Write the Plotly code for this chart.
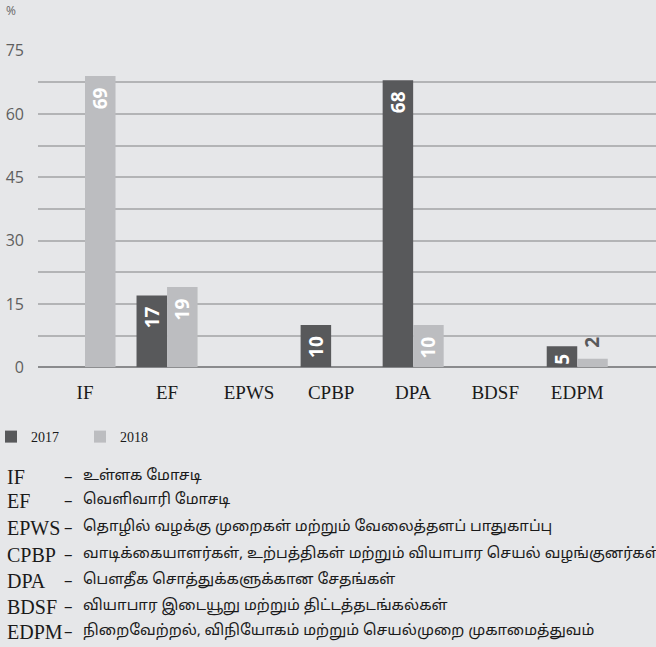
import plotly.graph_objects as go

# chart data
categories = ["IF", "EF", "EPWS", "CPBP", "DPA", "BDSF", "EDPM"]
values_2017 = [None, 17, None, 10, 68, None, 5]
values_2018 = [69, 19, None, None, 10, None, 2]
y_ticks = [0, 7.5, 15, 22.5, 30, 37.5, 45, 52.5, 60, 67.5, 75]
y_tick_labels = ["0", "", "15", "", "30", "", "45", "", "60", "", "75"]

abbreviations = ["IF", "EF", "EPWS", "CPBP", "DPA", "BDSF", "EDPM"]
descriptions = [
    "உள்ளக மோசடி",
    "வெளிவாரி மோசடி",
    "தொழில் வழக்கு முறைகள் மற்றும் வேலைத்தளப் பாதுகாப்பு",
    "வாடிக்கையாளர்கள், உற்பத்திகள் மற்றும் வியாபார செயல் வழங்குனர்கள்",
    "பௌதீக சொத்துக்களுக்கான சேதங்கள்",
    "வியாபார இடையூறு மற்றும் திட்டத்தடங்கல்கள்",
    "நிறைவேற்றல், விநியோகம் மற்றும் செயல்முறை முகாமைத்துவம்",
]

DARK = "#58595b"
LIGHT = "#bcbdc0"
BG = "#e6e7e9"
SERIF = "Liberation Serif, Times New Roman, serif"
TAMIL = "Noto Sans Tamil, Lohit Tamil, Latha, sans-serif"

W, H = 656, 647
PLOT_L, PLOT_R = 38, 656
PLOT_T, PLOT_B = 50.7, 367.3
BAR_HALF = 15.25  # px offset of each bar from its category centre


def px_x(x):
    return x / W


def px_y(y):
    return 1 - y / H


fig = go.Figure()
for name, vals, color in [("2017", values_2017, DARK), ("2018", values_2018, LIGHT)]:
    fig.add_trace(go.Bar(name=name, x=categories, y=vals,
                         marker=dict(color=color, line=dict(width=0)), hoverinfo="skip"))

annotations = []

# value labels, rotated, inside the top of the bar (above it when the bar is tiny)
for vals, shift in [(values_2017, -BAR_HALF), (values_2018, BAR_HALF)]:
    for cat, v in zip(categories, vals):
        if v is None:
            continue
        inside = v >= 4
        if inside:
            yshift = -9 if v >= 10 else -5
        else:
            yshift = 9
        annotations.append(dict(
            text=str(v), x=cat, y=v, xref="x", yref="y", showarrow=False,
            textangle=-90, xshift=shift, xanchor="center",
            yanchor="top" if inside else "bottom", yshift=yshift,
            font=dict(family="Open Sans", size=19, weight="bold",
                      color="white" if inside else DARK),
        ))

annotations.append(dict(text="%", x=px_x(4), y=px_y(11), xref="paper", yref="paper",
                        xanchor="left", yanchor="middle", showarrow=False,
                        font=dict(family="Open Sans", size=12, color="#666")))

line_y = [475, 499, 526, 553, 579, 605, 630]
for abbr, desc, ly in zip(abbreviations, descriptions, line_y):
    annotations.append(dict(text=abbr, x=px_x(4.5), y=px_y(ly + 1.5), xref="paper", yref="paper",
                            xanchor="left", yanchor="middle", showarrow=False,
                            font=dict(family=SERIF, size=20, color="#1a1a1a")))
    annotations.append(dict(text="–", x=px_x(62), y=px_y(ly), xref="paper", yref="paper",
                            xanchor="left", yanchor="middle", showarrow=False,
                            font=dict(family="Open Sans", size=17, color="#1a1a1a")))
    annotations.append(dict(text=desc, x=px_x(81), y=px_y(ly + 1.5), xref="paper", yref="paper",
                            xanchor="left", yanchor="middle", showarrow=False,
                            font=dict(family=TAMIL, size=15, color="#1a1a1a")))

fig.update_layout(
    width=W, height=H,
    margin=dict(l=0, r=0, t=0, b=0, pad=0, autoexpand=False),
    paper_bgcolor=BG, plot_bgcolor=BG,
    barmode="group", bargap=0.256, bargroupgap=0,
    showlegend=True,
    legend=dict(orientation="h", x=px_x(-9), y=px_y(437), xanchor="left", yanchor="middle",
                font=dict(family=SERIF, size=14, color="#1a1a1a"),
                bgcolor="rgba(0,0,0,0)", itemwidth=30, traceorder="normal",
                entrywidth=44, entrywidthmode="pixels"),
    annotations=annotations,
    xaxis=dict(domain=[px_x(PLOT_L), px_x(PLOT_R)], range=[-0.573, 6.96],
               showgrid=False, showline=False, ticks="",
               tickfont=dict(family=SERIF, size=19, color="#1a1a1a"),
               ticklabelstandoff=12, fixedrange=True),
    yaxis=dict(domain=[px_y(PLOT_B), px_y(PLOT_T)], range=[0, 75],
               tickvals=y_ticks, ticktext=y_tick_labels,
               showgrid=True, gridcolor="#b3b4b6", gridwidth=1.5,
               zeroline=True, zerolinecolor="#8a8b8d", zerolinewidth=1.5,
               showline=False, ticks="", ticklabelstandoff=13,
               tickfont=dict(family="Open Sans", size=16, color="#5f5f5f"), fixedrange=True),
)

fig.write_html("out.html", config={"displayModeBar": False},
               post_script="document.body.style.margin='0';")
